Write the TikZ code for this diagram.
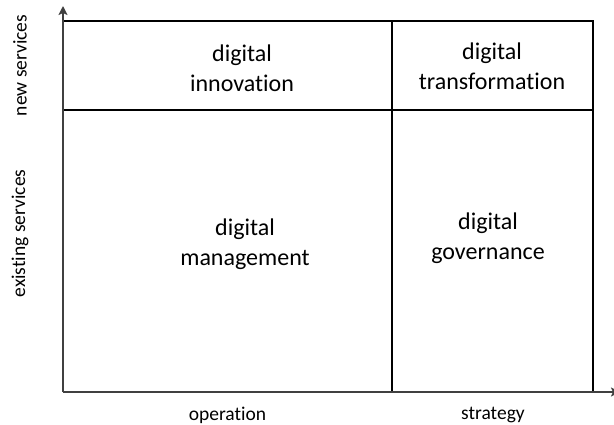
\documentclass[tikz,border=0pt]{standalone}
\usepackage{fontspec}
\setmainfont{Carlito}[Ligatures=NoCommon]
\usetikzlibrary{arrows.meta}
\begin{document}
\begin{tikzpicture}[x=1pt,y=-1pt,
  axis/.style={draw=black!75,line width=2.5pt,-{Stealth[length=9pt,width=9pt,inset=2pt]}},
  grid/.style={draw=black,line width=2.2pt},
  celltext/.style={font=\fontsize{24}{30}\selectfont,align=center,inner sep=0pt},
  axistext/.style={font=\fontsize{19.5}{22}\selectfont,inner sep=0pt}]
\useasboundingbox (0,0) rectangle (614,425);
% corner points of the quadrant frame
\coordinate (o) at (63,392);
\coordinate (ytop) at (63,6);
\coordinate (xend) at (620,392);
\coordinate (tl) at (63,21);
\coordinate (tr) at (593,21);
\coordinate (br) at (593,392);
\coordinate (ml) at (63,110);
\coordinate (mr) at (593,110);
\coordinate (vt) at (392,21);
\coordinate (vb) at (392,392);
% frame and dividers
\draw[grid] (tl) -- (tr) -- (br);
\draw[grid] (ml) -- (mr);
\draw[grid] (vt) -- (vb);
% axes
\draw[axis] (o) -- (ytop);
\draw[axis] (o) -- (xend);
% quadrant labels
\node[celltext] (inn) at (242,68) {digital\\innovation};
\node[celltext] (tra) at (492,66.3) {digital\\transformation};
\node[celltext] (man) at (245,244.5) {digital\\management};
\node[celltext] (gov) at (488,238) {digital\\governance};
% axis labels
\node[axistext,rotate=90] (ns) at (20,65.5) {new services};
\node[axistext,rotate=90] (es) at (20,233.5) {existing services};
\node[axistext,anchor=base] (op) at (227.5,420.5) {operation};
\node[axistext,anchor=base] (st) at (493,419.5) {strategy};
\end{tikzpicture}
\end{document}
